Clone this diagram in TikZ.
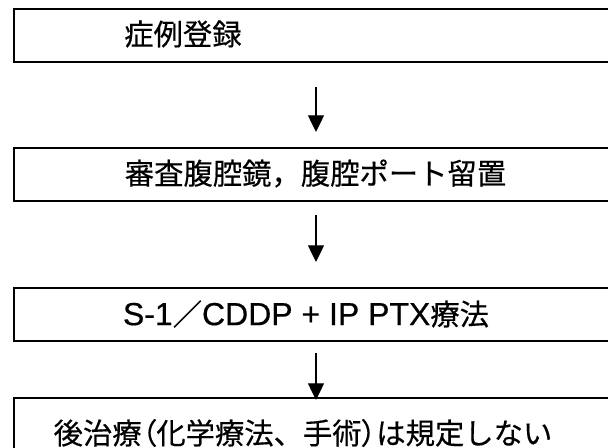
\documentclass[tikz,border=0pt]{standalone}
\usepackage{fontspec}
\setmainfont{Noto Sans CJK JP}
\newfontfamily\cjk[FakeBold=0.4]{Noto Sans CJK JP}
\newfontfamily\cjkp[FakeBold=0.4,RawFeature=+palt]{Noto Sans CJK JP}
\newfontfamily\lat[FakeBold=0.4,Scale=1.09]{Liberation Sans}
\usetikzlibrary{arrows.meta}
\tikzset{
  flowbox/.style={draw=black, line width=1.5pt, fill=none, inner sep=0pt,
    anchor=north west, minimum width=470pt, minimum height=39.75pt},
  boxtext/.style={inner sep=0pt, font=\fontsize{22}{26}\selectfont\cjk},
  flowarrow/.style={line width=1pt, -{Triangle[width=12pt,length=12.5pt]}}
}
\begin{document}
\begin{tikzpicture}[x=0.75pt,y=-0.75pt]
\useasboundingbox (0,0) rectangle (608,448);
\clip (0,0) rectangle (608,448);
\fill[white] (0,0) rectangle (608,448);
% boxes
\node[flowbox] (b1) at (12.7,8.3) {};
\node[flowbox] (b2) at (12.7,147) {};
\node[flowbox] (b3) at (12.7,287) {};
\node[flowbox, minimum height=48pt] (b4) at (12.7,397) {};
% texts
\node[boxtext, anchor=west] (t1) at (124,34) {症例登録};
\node[boxtext] (t2) at (315.5,173.5) {審査腹腔鏡，腹腔ポート留置};
\node[boxtext] (t3) at (306,314) {{\lat S-1}／{\lat CDDP + IP PTX}療法};
\node[boxtext] (t4) at (303,433) {後治療{\cjkp （}化学療法、手術{\cjkp ）}は規定しない};
% arrows
\coordinate (a1s) at (316,87);
\coordinate (a1e) at (316,132);
\coordinate (a2s) at (316,215);
\coordinate (a2e) at (316,262);
\coordinate (a3s) at (316,353);
\coordinate (a3e) at (316,400);
\draw[flowarrow] (a1s) -- (a1e);
\draw[flowarrow] (a2s) -- (a2e);
\draw[flowarrow] (a3s) -- (a3e);
\end{tikzpicture}
\end{document}
